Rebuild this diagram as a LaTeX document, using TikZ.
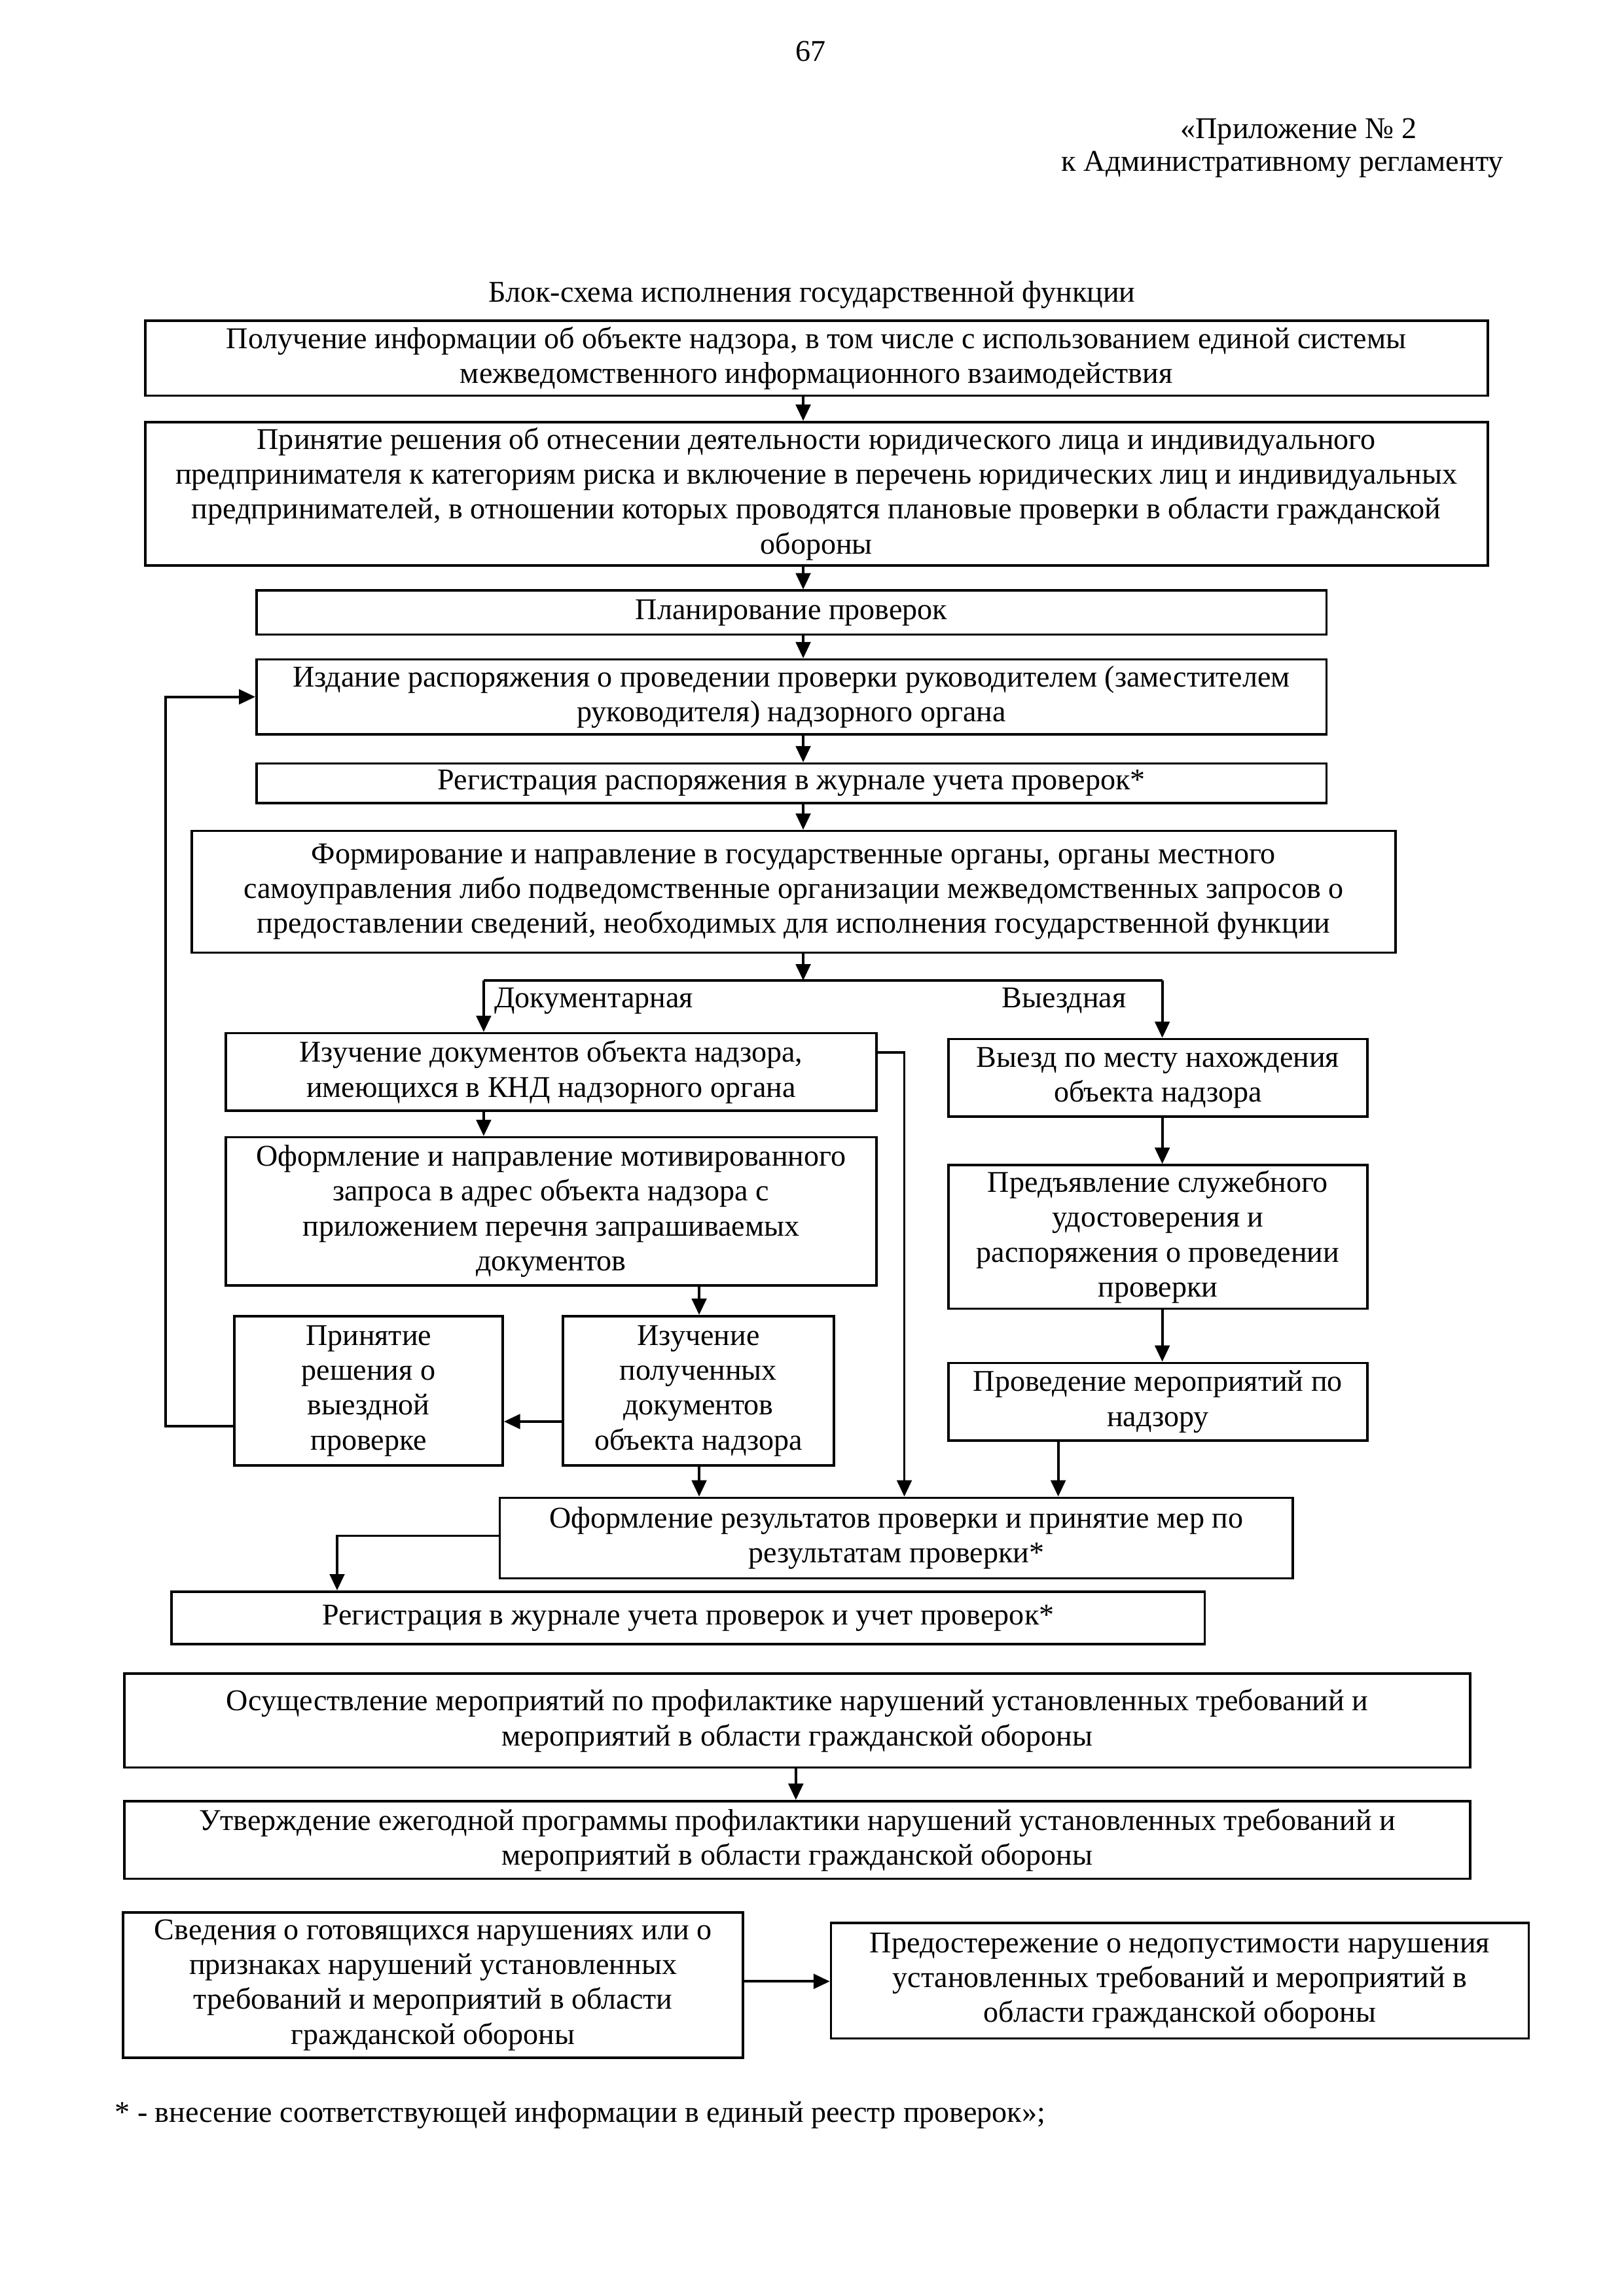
\documentclass[tikz,border=0pt]{standalone}
\usepackage{fontspec}
\setmainfont{Liberation Serif}
\usetikzlibrary{arrows.meta}
\newcommand{\fs}{\fontsize{11.1}{12.85}\selectfont}
\newcommand{\mkbox}[6]{\node[box, minimum width={(#4-#2)*0.18953mm}, minimum height={(#5-#3)*0.18953mm}] (#1) at ({(#2+#4)/2},{(#3+#5)/2}) {#6};}
\begin{document}
\begin{tikzpicture}[x=0.18953mm, y=-0.18953mm,
  box/.style={draw, line width=0.9pt, align=center, inner sep=0pt, font=\fs},
  txt/.style={align=center, inner sep=0pt, font=\fs},
  arr/.style={line width=0.9pt, -{Triangle[length=2.1mm, width=1.9mm]}},
  ln/.style={line width=0.9pt}]
\useasboundingbox (0,0) rectangle (1108,1566.7);
% header
\node[txt] (pg) at (553,35) {67};
\node[txt] (h1) at (886,90) {«Приложение № 2};
\node[txt] (h2) at (875,112) {к Административному регламенту};
\node[txt] (ttl) at (554,201) {Блок-схема исполнения государственной функции};
% boxes
\mkbox{b1}{99}{219}{1015}{270}{Получение информации об объекте надзора, в том числе с использованием единой системы\\межведомственного информационного взаимодействия}
\mkbox{b2}{99}{288}{1015}{386}{Принятие решения об отнесении деятельности юридического лица и индивидуального\\предпринимателя к категориям риска и включение в перечень юридических лиц и индивидуальных\\предпринимателей, в отношении которых проводятся плановые проверки в области гражданской\\обороны}
\mkbox{b3}{175}{403}{905}{433}{Планирование проверок}
\mkbox{b4}{175}{450}{905}{501}{Издание распоряжения о проведении проверки руководителем (заместителем\\руководителя) надзорного органа}
\mkbox{b5}{175}{521}{905}{548}{Регистрация распоряжения в журнале учета проверок*}
\mkbox{b6}{131}{567}{952}{650}{Формирование и направление в государственные органы, органы местного\\самоуправления либо подведомственные организации межведомственных запросов о\\предоставлении сведений, необходимых для исполнения государственной функции}
\mkbox{b7}{154}{705}{598}{758}{Изучение документов объекта надзора,\\имеющихся в КНД надзорного органа}
\mkbox{b8}{154}{776}{598}{877}{Оформление и направление мотивированного\\запроса в адрес объекта надзора с\\приложением перечня запрашиваемых\\документов}
\mkbox{b9}{160}{898}{343}{1000}{Принятие\\решения о\\выездной\\проверке}
\mkbox{b10}{384}{898}{569}{1000}{Изучение\\полученных\\документов\\объекта надзора}
\mkbox{v1}{647}{709}{933}{762}{Выезд по месту нахождения\\объекта надзора}
\mkbox{v2}{647}{795}{933}{893}{Предъявление служебного\\удостоверения и\\распоряжения о проведении\\проверки}
\mkbox{v3}{647}{930}{933}{983}{Проведение мероприятий по\\надзору}
\mkbox{r1}{341}{1022}{882}{1077}{Оформление результатов проверки и принятие мер по\\результатам проверки*}
\mkbox{r2}{117}{1086}{822}{1122}{Регистрация в журнале учета проверок и учет проверок*}
\mkbox{p1}{85}{1142}{1003}{1206}{Осуществление мероприятий по профилактике нарушений установленных требований и\\мероприятий в области гражданской обороны}
\mkbox{p2}{85}{1229}{1003}{1282}{Утверждение ежегодной программы профилактики нарушений установленных требований и\\мероприятий в области гражданской обороны}
\mkbox{s1}{84}{1305}{507}{1404}{Сведения о готовящихся нарушениях или о\\признаках нарушений установленных\\требований и мероприятий в области\\гражданской обороны}
\mkbox{s2}{567}{1312}{1043}{1391}{Предостережение о недопустимости нарушения\\установленных требований и мероприятий в\\области гражданской обороны}
% labels
\node[txt, anchor=west] (ldoc) at (337,683) {Документарная};
\node[txt] (lvyz) at (726,683) {Выездная};
\node[txt, anchor=west] (fn) at (78,1443) {* - внесение соответствующей информации в единый реестр проверок»;};
% helper coordinates
\coordinate (x548) at (548,0);
\coordinate (x543) at (543,0);
\coordinate (x330) at (330,0);
\coordinate (x793) at (793,0);
\coordinate (x477) at (477,0);
\coordinate (x722) at (722,0);
\coordinate (x617) at (617,0);
\coordinate (x230) at (230,0);
\coordinate (x113) at (113,0);
\coordinate (split) at (548,669);
\coordinate (sl) at (330,669);
\coordinate (sr) at (793,669);
\coordinate (y970) at (0,970);
\coordinate (y973) at (0,973);
\coordinate (y718) at (0,718);
\coordinate (y1048) at (0,1048);
\coordinate (y1352) at (0,1352);
% connectors
\draw[arr] (b1.south -| x548) -- (b2.north -| x548);
\draw[arr] (b2.south -| x548) -- (b3.north -| x548);
\draw[arr] (b3.south -| x548) -- (b4.north -| x548);
\draw[arr] (b4.south -| x548) -- (b5.north -| x548);
\draw[arr] (b5.south -| x548) -- (b6.north -| x548);
\draw[arr] (b6.south -| x548) -- (split);
\draw[ln] (sl) -- (sr);
\draw[arr] (sl) -- (b7.north -| sl);
\draw[arr] (sr) -- (v1.north -| sr);
\draw[arr] (b7.south -| x330) -- (b8.north -| x330);
\draw[arr] (b8.south -| x477) -- (b10.north -| x477);
\draw[arr] (b10.west |- y970) -- (b9.east |- y970);
\draw[arr] (b9.west |- y973) -- (x113 |- y973) -- (x113 |- b4.west) -- (b4.west);
\draw[arr] (b10.south -| x477) -- (r1.north -| x477);
\draw[arr] (b7.east |- y718) -- (x617 |- y718) -- (r1.north -| x617);
\draw[arr] (v1.south -| x793) -- (v2.north -| x793);
\draw[arr] (v2.south -| x793) -- (v3.north -| x793);
\draw[arr] (v3.south -| x722) -- (r1.north -| x722);
\draw[arr] (r1.west |- y1048) -- (x230 |- y1048) -- (r2.north -| x230);
\draw[arr] (p1.south -| x543) -- (p2.north -| x543);
\draw[arr] (s1.east |- y1352) -- (s2.west |- y1352);
\end{tikzpicture}
\end{document}
